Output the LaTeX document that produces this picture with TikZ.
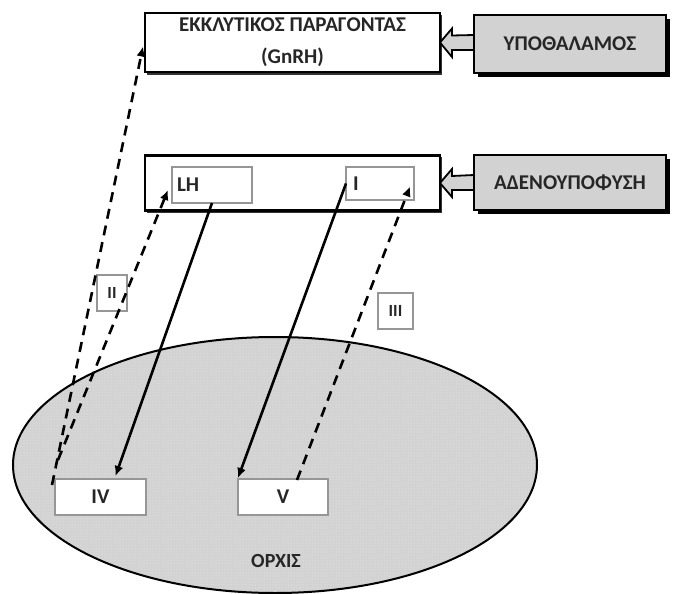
\documentclass[tikz,border=0pt]{standalone}
\usepackage{fontspec}
\setmainfont{Carlito}
\usetikzlibrary{arrows.meta,calc,patterns}
\definecolor{shadegray}{RGB}{210,210,210}
\definecolor{thinborder}{RGB}{150,150,150}
\tikzset{
  bigbox/.style={draw=black, line width=2.2pt, fill=white, outer sep=0pt, inner sep=0pt},
  greybox/.style={draw=black, line width=2pt, fill=shadegray, outer sep=0pt, inner sep=0pt},
  smallbox/.style={draw=thinborder, line width=1.1pt, fill=white, outer sep=0pt, inner sep=0pt},
  txt/.style={font=\bfseries\fontsize{21}{32}\selectfont, text=black!85},
  smalltxt/.style={font=\bfseries\fontsize{17}{18}\selectfont, text=black!85},
  solidarrow/.style={line width=2.6pt, -{Latex[length=10pt,width=9pt]}},
  dasharrow/.style={line width=2.6pt, dash pattern=on 10pt off 7pt, -{Latex[length=10pt,width=9pt]}},
  hollow/.style={draw=black, line width=1.8pt, fill=shadegray, line join=miter}
}
\begin{document}
\begin{tikzpicture}[x=1pt,y=-1pt]
\useasboundingbox (0,0) rectangle (675,594);
% testis ellipse
\draw[line width=2pt, fill=shadegray] (275,465) ellipse [x radius=262, y radius=128];
\fill[pattern=dots, pattern color=white!60!shadegray] (275,465) ellipse [x radius=260, y radius=126];
\node[txt, font=\bfseries\fontsize{20}{24}\selectfont] (orchis) at (276,561) {ΟΡΧΙΣ};
% top row
\fill[black!80] (147,15) rectangle (442,75);
\node[bigbox, minimum width=295, minimum height=59, txt, align=center] (gn) at (292.5,42.5) {ΕΚΚΛΥΤΙΚΟΣ ΠΑΡΑΓΟΝΤΑΣ\\(GnRH)};
\fill[black] (478,19) rectangle (670,77);
\node[greybox, minimum width=192, minimum height=58, txt] (hyp) at (570,44) {ΥΠΟΘΑΛΑΜΟΣ};
\draw[hollow] (gn.east) -- ++(12,-14) -- ++(0,7) -- (hyp.west |- 0,35) -- (hyp.west |- 0,50) -- ++(-22,0) -- ++(0,7) -- cycle;
% second row
\fill[black!80] (147,157) rectangle (442,213);
\node[bigbox, minimum width=295, minimum height=55] (aden) at (292.5,183) {};
\fill[black] (478,159) rectangle (670,214);
\node[greybox, minimum width=192, minimum height=55, txt] (adeno) at (570,182.5) {ΑΔΕΝΟΥΠΟΦΥΣΗ};
\draw[hollow] (aden.east) -- ++(12,-14) -- ++(0,7) -- (adeno.west |- 0,175) -- (adeno.west |- 0,190) -- ++(-22,0) -- ++(0,7) -- cycle;
\node[smallbox, minimum width=80, minimum height=36, inner xsep=5pt, text width=70pt, align=left, txt] (lh) at (212,185) {LH};
\node[smallbox, minimum width=68, minimum height=33, inner xsep=7pt, text width=54pt, align=left, txt] (i) at (380,183.5) {I};
% testis boxes
\node[smallbox, minimum width=91, minimum height=36, txt] (iv) at (100.5,497) {IV};
\node[smallbox, minimum width=90, minimum height=36, txt] (v) at (283,497) {V};
% feedback labels
\node[smallbox, minimum width=30, minimum height=36, smalltxt] (two) at (112,293) {II};
\node[smallbox, minimum width=35, minimum height=36, smalltxt] (three) at (395.5,311) {III};
% connectors
\coordinate (ivA) at ($(iv.west)+(-3,-12)$);
\coordinate (ivB) at ($(iv.north west)+(3,-19)$);
\coordinate (vA) at ($(v.north)+(14,1)$);
\draw[dasharrow] (ivA) -- ($(gn.west)+(-2,4)$);
\draw[dasharrow] (ivB) -- ($(lh.west)+(-4,5)$);
\draw[solidarrow] (lh.south) -- ($(iv.north)+(15,-3)$);
\draw[solidarrow] (i.west) -- ($(v.north west)+(0,-1)$);
\draw[dasharrow] (vA) -- ($(i.east)+(-4,3)$);
\end{tikzpicture}
\end{document}
